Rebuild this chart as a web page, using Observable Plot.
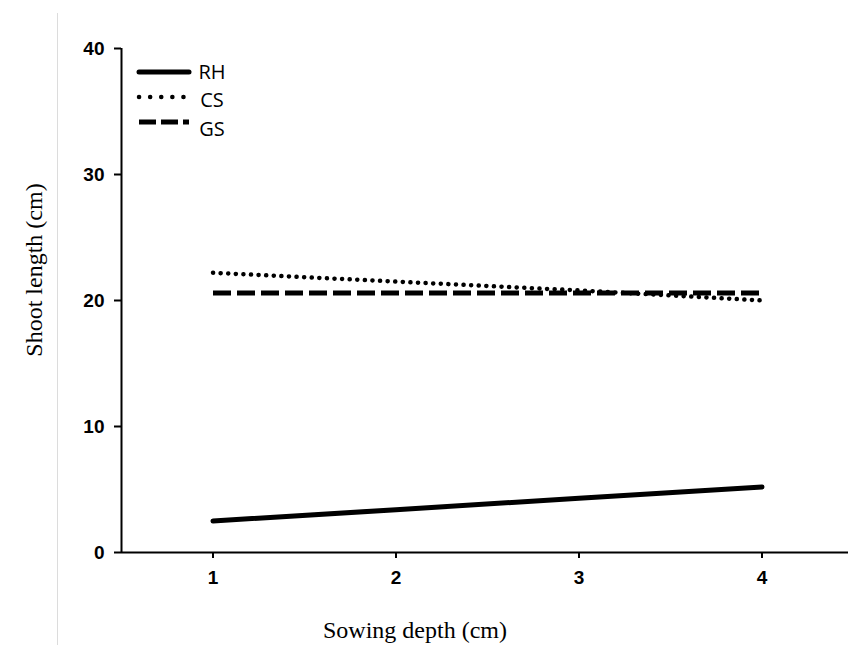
<!DOCTYPE html>
<html>
<head>
<meta charset="utf-8">
<script src="https://cdn.jsdelivr.net/npm/d3@7"></script>
<script src="https://cdn.jsdelivr.net/npm/@observablehq/plot@0.6"></script>
<style>
  html, body { margin: 0; padding: 0; background: #fff; }
  #wrap { position: relative; width: 848px; height: 645px; overflow: hidden; }
</style>
</head>
<body>
<div id="wrap"></div>
<script>
// Data
const depths = [1, 2, 3, 4];
const rh = [2.5, 3.4, 4.3, 5.2];
const cs = [22.2, 21.5, 20.8, 20.0];
const gs = [20.6, 20.6, 20.6, 20.6];
const seriesNames = ["RH", "CS", "GS"];
const yTicks = [0, 10, 20, 30, 40];
const xTicks = [1, 2, 3, 4];
const xLabel = "Sowing depth (cm)";
const yLabel = "Shoot length (cm)";

const styles = {
  RH: {strokeWidth: 5, strokeDasharray: null, strokeLinecap: "round"},
  CS: {strokeWidth: 4.5, strokeDasharray: "0.1 7.5", strokeLinecap: "round"},
  GS: {strokeWidth: 5, strokeDasharray: "18 6", strokeLinecap: "butt"}
};
const legendStyles = {
  RH: {strokeWidth: 5, strokeDasharray: null, strokeLinecap: "round"},
  CS: {strokeWidth: 4.5, strokeDasharray: "0.1 11", strokeLinecap: "round"},
  GS: {strokeWidth: 5, strokeDasharray: "17 5", strokeLinecap: "butt"}
};

const valuesBySeries = {RH: rh, CS: cs, GS: gs};
const table = seriesNames.map(s => depths.map((d, i) => ({depth: d, value: valuesBySeries[s][i], series: s})));

const tickFont = {fontFamily: "Liberation Sans, Arial, sans-serif", fontWeight: "bold", fontSize: 19};

const chart = Plot.plot({
  width: 848,
  height: 645,
  marginLeft: 121,
  marginRight: 0,
  marginTop: 48,
  marginBottom: 93,
  style: {background: "white", overflow: "hidden"},
  x: {domain: [0.5, 4.5], range: [121, 853]},
  y: {domain: [0, 40]},
  marks: [
    Plot.ruleX([0.5], {y1: 0, y2: 40, stroke: "black", strokeWidth: 2}),
    Plot.ruleY([0], {x1: 0.5, x2: 4.6, stroke: "black", strokeWidth: 2}),
    Plot.axisY({ticks: yTicks, tickSize: 7, tickPadding: 10, label: null, strokeWidth: 2, tickFormat: d3.format("d"), ...tickFont, color: "black"}),
    Plot.axisX({ticks: xTicks, tickSize: 6, tickPadding: 12, label: null, strokeWidth: 2, tickFormat: d3.format("d"), ...tickFont, color: "black"}),
    ...table.map(rows => Plot.line(rows, {
      x: "depth", y: "value", stroke: "black", strokeLinejoin: "round", ...styles[rows[0].series]
    }))
  ]
});

const svg = d3.select(chart);

// faint vertical border line at left
svg.append("line")
  .attr("x1", 57.5).attr("x2", 57.5).attr("y1", 13).attr("y2", 645)
  .attr("stroke", "#dcdcdc").attr("stroke-width", 1);

// Axis titles
const serif = "Liberation Serif, Times New Roman, serif";
svg.append("text")
  .attr("x", 415).attr("y", 630).attr("dy", "0.35em")
  .attr("text-anchor", "middle")
  .attr("font-family", serif).attr("font-size", 24).attr("fill", "black")
  .text(xLabel);
svg.append("text")
  .attr("transform", "translate(34,270) rotate(-90)")
  .attr("dy", "0.35em")
  .attr("text-anchor", "middle")
  .attr("font-family", serif).attr("font-size", 24).attr("fill", "black")
  .text(yLabel);

// Legend
const lg = svg.append("g").attr("class", "legend");
const lineY = [72, 97, 122];
const textY = [72, 100, 129];
seriesNames.forEach((s, i) => {
  const st = legendStyles[s];
  lg.append("line")
    .attr("x1", 139).attr("x2", 189)
    .attr("y1", lineY[i]).attr("y2", lineY[i])
    .attr("stroke", "black")
    .attr("stroke-width", st.strokeWidth)
    .attr("stroke-linecap", st.strokeLinecap)
    .attr("stroke-dasharray", st.strokeDasharray);
  lg.append("text")
    .attr("x", 212).attr("y", textY[i])
    .attr("dy", "0.35em")
    .attr("font-family", "Open Sans, DejaVu Sans, sans-serif")
    .attr("font-size", 20)
    .attr("fill", "black")
    .text(s);
});

document.getElementById("wrap").appendChild(chart);
</script>
</body>
</html>
